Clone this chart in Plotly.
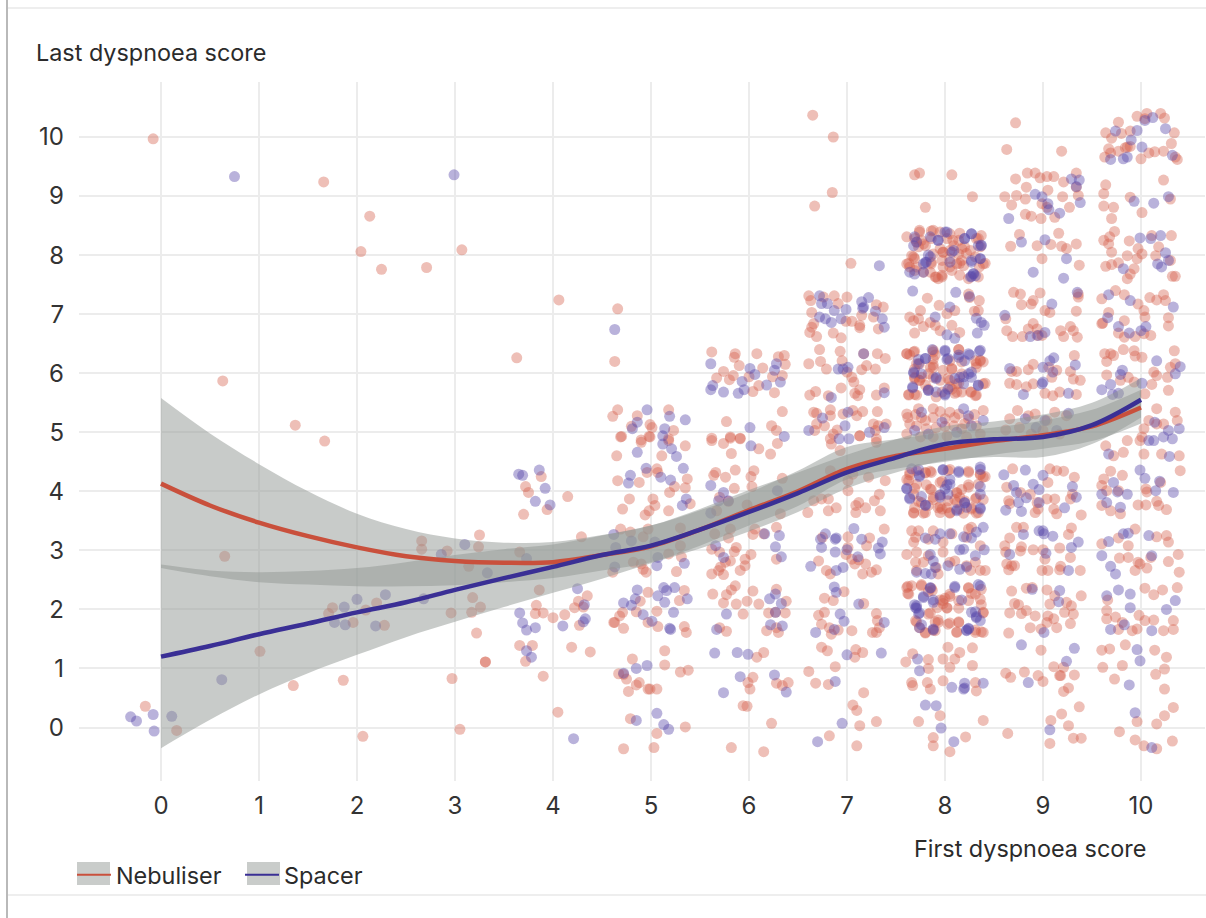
import plotly.graph_objects as go

# Scatter readings, (first score + jitter, last score + jitter), grouped by first-score column
neb_left = [(-0.08,9.97),(1.66,9.24),(2.04,8.06),(2.13,8.66),(2.25,7.76),(2.71,7.79),(3.07,8.09),(4.06,7.24),(3.63,6.26),
(0.63,5.87),(1.37,5.12),(1.67,4.85),(3.72,4.08),(3.75,3.98),(3.88,4.25),(3.70,3.61),(4.15,3.91),(3.94,3.69),
(2.66,3.16),(2.66,3.02),(2.92,2.99),(3.25,3.26),(3.24,3.06),(3.14,2.73),(3.66,2.97),(4.29,3.23),(0.65,2.9),
(1.75,2.03),(1.71,1.93),(1.96,1.78),(2.09,1.99),(2.20,2.11),(2.28,1.73),(3.18,2.20),(2.96,1.94),(3.17,1.95),(3.26,2.04),
(3.22,1.60),(3.31,1.11),(3.31,1.11),(3.86,2.33),(3.83,2.07),(3.82,1.93),(3.90,1.94),(4.0,1.86),(4.12,1.91),(4.22,2.03),
(4.26,2.14),(4.35,2.23),(4.31,2.04),(4.27,1.73),(3.66,1.39),(3.79,1.39),(3.72,1.12),(4.19,1.36),(4.38,1.28),(3.90,0.87),
(4.05,0.26),(3.05,-0.03),(2.97,0.83),(1.01,1.29),(1.35,0.71),(1.86,0.80),(2.06,-0.15),(-0.16,0.36),(0.16,-0.05)]
spa_left = [(0.75,9.33),(2.99,9.36),(-0.31,0.18),(-0.25,0.11),(-0.08,0.22),(-0.07,-0.06),(0.11,0.19),(0.62,0.81),
(1.87,2.04),(2.0,2.17),(2.29,2.25),(1.77,1.78),(1.88,1.74),(2.19,1.72),(2.68,2.18),(3.10,3.10),(2.86,2.93),(3.33,2.62),(3.73,2.86),
(3.65,4.29),(3.69,4.27),(3.86,4.36),(3.92,4.05),(3.82,3.83),(3.97,3.77),(3.66,1.94),(3.69,1.77),(3.73,1.65),(3.82,1.69),
(4.10,1.72),(4.25,2.35),(4.32,2.08),(4.33,1.84),(4.31,1.79),(3.73,1.30),(3.78,1.19),(4.21,-0.19)]

neb_5 = [(4.66,7.09),(4.63,6.20),(4.66,5.38),(4.61,5.27),(4.70,4.93),(4.86,5.28),(4.80,5.10),(4.99,5.13),(5.01,5.08),(5.18,5.38),
(4.98,4.93),(4.90,4.87),(5.23,5.03),(5.18,4.89),(4.69,4.92),(4.90,4.83),(4.99,4.92),(5.11,4.60),(5.35,4.77),(4.65,4.60),(5.18,4.86),
(4.96,4.32),(5.06,4.38),(5.07,4.32),(4.88,4.15),(4.66,4.18),(5.37,4.21),(5.24,4.08),(5.35,4.06),(5.19,3.98),(4.78,3.87),(4.71,3.70),
(5.02,3.87),(5.04,3.76),(4.98,3.67),(4.94,3.60),(5.18,3.67),(5.40,3.79),(4.69,3.36),(4.79,3.31),(4.97,3.36),(4.92,3.23),(5.30,3.38),
(5.30,3.08),(5.18,2.94),(5.31,2.89),(4.90,2.77),(4.95,2.63),(5.26,2.64),(4.61,2.63),(4.82,2.80),(4.92,2.68),(4.97,2.29),(4.89,2.14),
(4.85,1.96),(5.06,1.97),(4.71,1.95),(4.68,1.89),(4.63,1.78),(4.72,1.68),(4.97,1.78),(5.07,1.71),(5.34,2.32),(5.29,2.15),(5.34,1.71),
(5.36,1.61),(4.81,1.16),(4.72,0.90),(4.75,0.82),(5.14,1.30),(5.14,1.06),(5.30,0.94),(5.38,0.97),(4.88,0.76),(4.85,0.72),(4.77,0.61),
(4.97,0.65),(4.99,0.65),(5.06,0.65),(4.79,0.15),(5.06,-0.10),(5.35,0.01),(4.72,-0.36),(5.03,-0.34),(4.62,1.78),(4.67,0.91)]
spa_5 = [(4.63,6.74),(4.96,5.38),(4.86,5.17),(4.81,5.06),(5.14,5.06),(5.12,4.94),(5.19,5.27),(5.35,5.21),(4.86,4.66),(5.12,4.80),
(5.21,4.72),(5.26,4.59),(4.95,4.39),(5.33,4.39),(4.79,4.27),(4.77,4.14),(5.10,4.24),(5.20,4.19),(5.36,3.87),(5.32,3.76),(4.62,3.27),
(4.80,3.16),(5.04,3.14),(4.64,3.05),(5.07,2.88),(5.06,2.74),(5.34,2.78),(4.63,2.72),(4.86,2.33),(5.07,2.23),(5.13,2.37),(5.16,2.32),
(5.24,2.37),(5.37,2.18),(5.14,2.12),(4.84,2.18),(4.72,2.11),(4.80,2.07),(4.92,1.91),(5.01,1.80),(5.23,1.95),(5.19,1.68),(5.20,1.66),
(4.85,1.0),(4.96,1.05),(4.72,0.92),(5.06,0.24),(4.85,0.12),(5.13,0.05),(5.18,-0.03)]

neb_6 = [(5.62,6.36),(5.86,6.33),(5.85,6.27),(5.90,6.13),(6.08,6.33),(6.30,6.28),(6.36,6.30),(6.37,6.15),(6.14,6.09),(5.74,6.03),
(5.67,5.92),(5.80,5.89),(5.84,5.96),(6.34,5.96),(6.24,5.94),(6.0,5.94),(6.10,5.79),(6.04,5.69),(6.26,5.67),(6.34,5.35),(5.77,5.18),
(6.23,5.11),(6.28,5.03),(5.62,4.90),(5.81,4.92),(5.91,4.90),(5.62,4.86),(5.74,4.81),(5.81,4.90),(5.91,4.89),(5.82,4.64),(6.10,4.72),
(6.22,4.63),(6.29,4.81),(5.86,4.36),(6.05,4.35),(5.66,4.32),(5.76,4.24),(6.02,4.25),(5.64,4.27),(6.34,4.22),(5.85,4.05),(6.03,4.08),
(5.70,3.90),(5.79,3.83),(5.98,3.77),(5.67,3.67),(6.32,3.62),(5.65,3.28),(5.81,3.36),(5.79,3.21),(6.06,3.36),(6.04,3.27),(6.15,3.28),
(6.28,3.39),(5.62,3.02),(5.87,3.05),(5.85,2.98),(5.70,2.97),(6.02,2.93),(5.96,2.85),(5.81,2.82),(5.76,2.80),(5.71,2.72),(5.69,2.66),
(5.62,2.60),(5.74,2.59),(5.91,2.66),(5.96,2.74),(6.28,2.85),(5.86,2.40),(5.82,2.33),(5.77,2.25),(5.63,2.26),(5.74,2.11),(5.87,2.09),
(6.04,2.31),(5.98,2.14),(6.10,2.09),(6.28,2.34),(6.20,1.94),(6.27,1.95),(6.38,2.14),(6.37,1.94),(5.94,1.92),(5.70,1.69),(5.77,1.63),
(6.18,1.64),(6.28,1.69),(6.30,1.61),(6.15,1.27),(6.08,1.19),(6.04,0.85),(5.99,0.76),(6.01,0.65),(6.28,0.75),(6.34,0.71),(6.40,0.76),
(5.94,0.37),(5.98,0.36),(6.23,0.07),(5.82,-0.34),(6.15,-0.41)]
spa_6 = [(5.61,6.16),(6.01,6.08),(6.06,5.98),(6.28,6.16),(6.26,6.05),(6.32,5.85),(5.93,5.86),(5.63,5.79),(5.61,5.72),(5.74,5.68),
(5.89,5.66),(5.95,5.72),(6.18,5.80),(6.01,5.08),(6.36,4.93),(6.02,4.77),(5.61,4.10),(5.74,3.98),(5.69,3.84),(5.79,3.84),(5.61,3.63),
(6.29,4.01),(6.16,3.28),(6.31,3.25),(5.66,3.08),(6.27,3.06),(5.74,2.88),(6.33,2.89),(6.27,2.26),(6.21,2.18),(6.33,2.10),(5.77,1.92),
(6.27,1.95),(6.22,1.74),(6.34,1.72),(5.67,1.66),(5.65,1.26),(5.88,1.27),(5.99,1.24),(5.91,0.86),(6.26,0.89),(5.74,0.59),(6.38,0.60)]

neb_7 = [(6.65,10.37),(6.86,10.0),(6.85,9.06),(6.67,8.83),(7.04,7.86),(6.61,7.31),(6.63,7.23),(6.76,7.29),(6.87,7.31),(7.0,7.29),
(6.91,7.18),(7.30,7.16),(7.37,7.12),(6.64,7.03),(6.66,6.84),(6.64,6.78),(6.62,6.69),(6.69,6.62),(6.86,6.68),(6.94,6.60),(7.05,6.88),
(6.99,6.88),(7.13,6.81),(7.13,6.77),(7.32,6.75),(7.15,6.98),(7.27,6.95),(6.72,6.40),(6.93,6.37),(6.95,6.21),(6.61,6.16),(6.73,6.20),
(6.79,6.07),(7.17,6.33),(7.31,6.33),(7.39,6.25),(7.20,6.13),(7.15,6.06),(7.29,6.07),(7.0,6.02),(7.05,5.93),(7.07,5.85),(6.94,5.75),
(7.13,5.72),(7.08,5.66),(7.11,5.62),(6.62,5.63),(6.68,5.69),(7.30,5.63),(7.38,5.75),(6.81,5.62),(6.66,5.34),(6.69,5.32),(6.83,5.38),
(6.83,5.28),(6.96,5.31),(7.06,5.37),(7.10,5.28),(7.16,5.35),(7.31,5.35),(7.27,5.14),(7.32,5.11),(7.40,5.14),(7.29,5.03),(6.69,5.14),
(6.77,5.11),(6.67,5.03),(6.86,4.97),(6.90,5.04),(6.83,4.89),(7.13,4.94),(7.30,4.89),(6.84,4.80),(6.93,4.69),(7.13,4.94),(7.30,4.83),
(6.83,4.35),(7.01,4.18),(7.06,4.29),(7.01,4.01),(6.66,3.84),(6.74,3.87),(6.81,3.87),(6.89,3.72),(6.81,3.67),(6.60,3.64),(7.09,3.76),
(7.12,3.81),(7.19,3.72),(7.33,3.95),(7.28,3.84),(7.34,3.67),(7.09,3.64),(7.39,4.18),(7.22,4.24),(7.01,3.23),(7.23,3.21),(7.38,3.36),
(7.20,3.08),(6.75,3.22),(6.71,2.82),(7.05,2.85),(7.08,2.77),(7.19,2.77),(6.99,2.93),(6.79,2.66),(6.83,2.60),(7.16,2.60),(7.25,2.63),
(7.30,2.67),(7.01,3.05),(7.12,2.84),(6.97,2.30),(6.77,2.19),(6.86,2.15),(6.71,1.90),(6.77,1.95),(6.74,1.75),(6.82,1.69),(6.84,1.58),
(6.91,1.65),(7.05,1.64),(7.30,1.93),(7.31,1.81),(7.33,1.69),(7.26,1.61),(7.30,1.61),(7.17,2.10),(6.74,1.36),(6.80,1.30),(7.09,1.32),
(7.16,1.27),(7.08,1.19),(6.88,1.03),(6.61,0.95),(6.68,0.75),(6.81,0.73),(7.17,0.59),(7.06,0.38),(7.10,0.29),(7.13,0.03),(7.30,0.10),
(6.82,-0.14),(7.10,-0.31)]
spa_7 = [(7.33,7.82),(6.72,7.31),(6.74,7.18),(6.80,7.18),(6.87,7.06),(6.99,7.08),(7.15,7.21),(7.22,7.28),(7.16,7.10),(7.17,7.12),
(7.29,7.05),(7.36,6.92),(7.38,6.78),(6.72,6.95),(6.78,6.92),(6.84,6.86),(6.94,6.92),(7.17,6.33),(6.91,6.07),(7.01,6.10),(6.96,6.07),
(6.84,5.59),(7.38,5.67),(6.75,5.24),(7.01,5.34),(6.98,5.11),(6.61,5.03),(7.23,5.0),(7.38,5.08),(6.92,4.89),(7.02,4.89),(7.07,3.37),
(6.78,3.28),(6.73,3.19),(6.89,3.21),(6.88,3.19),(7.15,3.19),(6.74,3.05),(6.88,2.97),(7.0,3.01),(7.36,3.14),(7.32,3.04),(7.34,2.94),
(6.63,2.73),(6.96,2.71),(6.89,2.66),(7.11,2.89),(6.87,2.38),(6.89,2.29),(7.12,2.09),(6.93,1.92),(6.97,1.80),(6.87,1.66),(6.68,1.61),
(7.38,1.78),(7.0,1.23),(7.35,1.26),(6.88,0.78),(6.95,0.07),(6.70,-0.24)]

neb_8 = [(7.69,9.36),(7.74,9.39),(8.07,9.36),(8.28,8.99),(7.80,8.81),(7.61,8.31),(7.74,8.39),(7.86,8.41),(7.76,8.25),(7.73,8.14),
(7.80,8.16),(7.86,8.28),(7.95,8.39),(8.05,8.36),(8.15,8.37),(8.37,8.33),(8.32,8.28),(8.14,8.25),(8.09,8.16),(7.98,8.05),(7.95,8.11),
(7.66,7.99),(7.61,7.85),(7.64,7.80),(7.69,7.94),(7.71,7.80),(7.88,8.02),(7.86,7.85),(7.97,7.91),(8.05,7.94),(8.14,8.02),(8.17,7.91),
(8.12,7.85),(8.19,7.82),(8.39,7.85),(8.35,7.80),(8.31,7.97),(8.26,8.08),(8.20,8.14),(8.36,8.14),(7.90,7.63),(7.93,7.60),(7.97,7.63),
(7.85,7.71),(8.07,7.74),(8.15,7.66),(8.24,7.60),(8.34,7.63),(7.98,7.80),(7.78,7.71),(8.05,8.08),(8.02,8.28),
(7.82,7.27),(7.94,7.15),(8.24,7.34),(8.25,7.28),(8.35,7.23),(8.34,7.06),(8.30,7.05),(8.10,7.06),(7.75,7.06),(7.64,6.95),(7.68,6.89),
(7.73,6.92),(7.78,6.79),(7.69,6.68),(7.85,6.86),(7.90,6.81),(7.95,6.72),(8.15,6.69),(8.02,7.01),(8.07,6.81),
(7.61,6.33),(7.69,6.37),(7.88,6.36),(8.14,6.40),(7.69,6.07),(7.74,6.16),(7.88,6.24),(7.85,6.10),(7.88,6.10),(8.07,6.07),(8.05,6.21),
(8.31,6.21),(8.36,6.21),(8.32,6.10),(7.69,5.93),(7.76,5.93),(7.88,5.93),(7.95,5.88),(8.05,5.88),(8.12,5.82),(8.17,5.99),(8.39,5.82),
(7.63,5.64),(7.69,5.64),(7.83,5.73),(8.12,5.68),(8.26,5.68),(8.31,5.62),(8.07,5.73),(7.97,5.68),(7.74,5.88),(8.17,5.68),
(7.61,5.31),(7.73,5.40),(7.76,5.25),(7.88,5.40),(7.88,5.25),(8.05,5.34),(8.0,5.23),(8.14,5.31),(8.24,5.23),(7.64,5.14),(7.71,5.11),
(7.81,5.06),(7.91,5.08),(8.09,5.11),(8.17,5.06),(8.32,5.11),(8.39,5.37),(7.61,4.97),(7.75,4.92),(7.88,4.92),(8.02,4.94),(8.22,4.92),(8.36,4.97),
(7.64,4.32),(7.71,4.35),(7.86,4.32),(7.80,4.32),(8.03,4.35),(8.24,4.32),(8.36,4.29),(7.63,4.18),(7.71,4.12),(7.95,4.15),(7.85,4.04),
(8.12,3.98),(8.15,3.90),(8.24,4.07),(8.34,4.12),(7.68,3.95),(7.76,3.81),(7.95,3.93),(7.97,3.70),(7.95,3.64),(7.68,3.64),(7.80,3.64),
(8.05,3.64),(8.15,3.70),(8.34,3.64),(8.27,3.70),(8.12,3.81),(8.31,3.87),(7.88,3.90),(8.20,3.84),(7.73,3.83),(7.83,3.76),(8.03,3.84),(8.39,4.24),
(7.66,3.33),(7.73,3.33),(7.68,3.14),(7.70,3.22),(7.61,2.93),(7.70,2.80),(7.88,3.33),(7.83,3.19),(8.07,3.28),(8.24,3.36),(8.27,3.39),
(7.98,3.14),(8.36,3.08),(8.22,3.22),(7.71,2.97),(7.83,2.91),(7.98,2.97),(8.10,2.82),(8.22,2.74),(8.31,2.80),(8.26,2.66),(8.36,2.66),
(8.41,2.66),(7.71,2.66),(7.93,2.60),(7.91,2.71),(8.05,2.80),(7.78,2.80),
(7.61,2.37),(7.66,2.40),(7.76,2.40),(7.87,2.32),(7.63,2.26),(8.05,2.26),(7.98,2.15),(8.24,2.37),(8.37,2.34),(8.31,2.26),(8.14,2.15),
(7.92,2.03),(8.02,2.03),(8.39,1.95),(7.83,1.92),(7.70,1.81),(7.93,1.78),(8.03,1.75),(8.14,1.78),(7.90,1.64),(7.80,1.61),(8.12,1.61),
(8.31,1.61),(8.39,1.61),(7.74,1.69),(8.24,2.15),(8.36,2.17),
(8.03,1.36),(8.28,1.35),(7.67,1.25),(8.15,1.27),(7.60,1.11),(7.83,1.15),(7.98,1.16),(8.10,1.16),(7.83,1.0),(8.05,1.02),(8.28,1.05),
(7.66,0.76),(7.67,0.71),(7.82,0.76),(7.85,0.65),(7.98,0.79),(8.31,0.76),(8.32,0.62),(7.95,0.20),(7.73,0.10),(8.39,0.12),(7.88,-0.17),
(7.88,-0.31),(8.21,-0.16),(8.05,-0.41)]
neb_8_dense = [(7.71,8.22),(7.69,8.28),(7.88,8.42),(8.08,8.25),(8.34,8.28),(8.17,8.11),(8.22,8.03),(7.98,8.05),(7.86,7.88),(7.68,7.97),
(7.63,7.86),(7.69,7.74),(7.91,7.63),(7.97,7.66),(8.05,7.80),(8.15,7.86),(8.41,7.86),(7.78,8.19),(7.74,8.42),
(7.61,6.33),(7.68,6.36),(7.64,6.31),(7.88,6.39),(7.90,6.31),(8.14,6.40),(7.71,6.16),(7.88,6.14),(8.07,6.08),(7.98,6.05),(7.74,5.88),
(7.83,5.99),(7.69,5.91),(8.03,5.91),(8.05,5.77),(8.14,5.83),(8.32,6.16),(8.39,6.19),(8.36,6.22),(8.17,6.19),(8.41,5.83),(7.63,5.63),
(7.71,5.63),(7.91,5.60),(8.10,5.66),(8.32,5.63),(8.27,5.68),(7.80,5.80),
(7.62,5.25),(7.80,5.20),(7.95,5.35),(8.10,5.25),(8.30,5.30),(7.70,5.30),(8.0,5.10),(8.20,5.15),
(7.61,4.20),(7.64,4.28),(7.85,4.34),(7.80,4.31),(8.05,4.37),(8.24,4.34),(8.36,4.28),(8.41,4.25),(7.69,4.05),(7.81,4.11),(7.86,4.03),
(7.97,4.17),(8.12,3.97),(8.24,4.11),(8.17,4.03),(8.32,3.89),(8.39,3.86),(7.69,3.72),(7.93,3.72),(7.95,3.74),(8.02,3.72),(8.05,3.63),
(7.78,3.63),(7.68,3.63),(8.19,3.63),(8.32,3.63),(8.27,3.72),(7.88,3.86),(8.10,3.86),
(7.62,2.39),(7.62,2.27),(7.76,2.42),(7.83,2.30),(7.86,2.36),(8.24,2.36),(8.27,2.27),(7.98,2.10),(8.0,2.19),(8.05,2.22),(8.14,2.02),
(8.37,2.08),(8.39,1.94),(7.85,1.94),(7.90,1.79),(7.93,1.82),(7.71,1.79),(8.05,1.77),(8.14,1.79),(7.88,1.65),(7.80,1.60),(8.12,1.62),
(8.31,1.65),(8.37,1.62),(8.02,2.02),(7.95,2.16)]
spa_8 = [(7.69,8.31),(7.71,8.22),(7.68,8.16),(7.93,8.25),(8.02,8.39),(8.27,8.36),(8.20,8.28),(8.34,8.16),(8.37,8.16),(8.09,8.08),
(7.85,7.97),(7.78,7.85),(7.81,7.88),(7.69,7.68),(7.78,7.71),(8.27,7.91),(8.36,7.94),(8.29,7.68),(8.31,7.65),(8.26,7.63),(8.05,7.88),
(7.67,7.39),(8.11,7.37),(8.25,7.30),(8.05,7.12),(7.90,6.95),(8.32,6.93),(8.37,6.86),(8.40,6.81),(8.33,6.68),(8.02,6.65),(8.10,6.59),
(7.87,6.40),(8.0,6.37),(8.35,6.37),(8.25,6.31),(7.80,6.25),(7.73,6.23),(8.02,6.23),(8.14,6.27),(8.20,6.21),(7.68,6.0),(7.91,5.93),
(8.15,5.93),(8.24,5.99),(8.27,5.93),(7.67,5.75),(8.0,5.65),(8.03,5.73),(8.34,5.79),(7.83,5.71),(8.19,5.82),
(7.69,5.03),(7.76,5.34),(7.97,5.17),(8.19,5.40),(8.24,5.28),(8.39,5.20),(8.27,5.11),(7.83,4.97),(8.12,5.0),
(7.66,4.38),(7.74,4.27),(7.98,4.36),(8.14,4.32),(8.36,4.41),(8.05,4.12),(7.61,4.04),(7.64,3.87),(7.80,3.76),(8.0,4.04),(8.03,3.95),
(7.95,3.90),(8.22,3.73),(8.36,3.95),(8.36,3.70),(8.12,3.67),(8.20,3.81),
(8.39,3.39),(7.95,3.28),(7.90,3.19),(7.80,3.21),(8.05,3.28),(8.19,3.23),(8.27,3.21),(8.32,3.31),(8.15,3.01),(8.19,3.02),(8.40,3.01),
(7.85,2.93),(8.31,2.91),(7.88,2.82),(7.90,2.71),(7.80,2.61),(7.71,2.63),(7.86,2.60),(8.03,2.74),(8.15,2.68),(8.22,2.72),
(7.85,2.37),(8.10,2.37),(8.36,2.40),(7.78,2.20),(7.71,2.06),(7.70,2.03),(7.88,2.12),(7.73,1.92),(8.27,1.95),(8.32,1.86),(8.36,1.81),
(7.74,1.69),(8.24,1.67),(8.22,1.64),(7.88,1.67),
(7.72,1.16),(7.74,0.96),(8.07,0.68),(8.20,0.75),(8.20,0.67),(8.19,0.65),(8.39,0.75),(7.80,0.38),(7.91,0.37),(7.96,-0.01),(8.09,-0.24)]
spa_8_dense = [(7.85,8.31),(7.93,8.25),(8.0,8.39),(8.27,8.36),(8.20,8.28),(8.07,8.05),(7.83,8.0),(7.80,7.88),(8.27,7.88),(8.36,7.94),
(8.29,7.69),(8.27,7.64),(7.64,7.71),(8.37,8.17),
(7.68,6.02),(7.73,6.16),(7.80,6.25),(8.0,6.39),(8.03,6.25),(8.24,6.33),(8.36,6.39),(8.14,6.31),(7.76,5.99),(7.91,5.91),(8.10,5.91),
(8.19,5.94),(8.27,6.02),(8.34,5.80),(7.67,5.77),(7.83,5.71),(8.0,5.63),(7.91,5.68),
(7.74,4.25),(7.73,4.37),(7.98,4.37),(8.14,4.34),(8.36,4.37),(8.05,4.20),(7.61,4.05),(7.64,3.89),(7.80,3.77),(7.95,3.94),(8.02,4.11),
(8.20,3.80),(8.36,4.08),(8.36,3.72),(8.12,3.69),(7.76,3.91),
(7.85,2.36),(8.10,2.39),(8.34,2.42),(7.78,2.22),(7.88,2.16),(7.69,2.08),(7.71,2.02),(7.74,1.94),(8.31,1.96),(8.32,1.88),(8.24,1.68),
(8.22,1.65),(7.76,1.74),(7.88,1.65),(8.17,2.16)]

neb_9 = [(8.72,10.24),(8.63,9.79),(9.19,9.76),(8.84,9.39),(8.92,9.39),(8.72,9.29),(8.97,9.31),(9.04,9.33),(9.11,9.33),(9.21,9.24),
(9.34,9.39),(8.61,8.99),(8.73,9.01),(8.83,9.15),(8.82,8.95),(8.68,8.85),(9.05,9.10),(9.20,8.99),(9.36,9.01),(8.82,8.69),(8.88,8.66),
(8.98,8.62),(9.12,8.64),(9.27,8.81),(9.04,8.81),(9.34,9.15),(8.99,8.87),(8.76,8.35),(8.67,8.15),(8.94,8.16),(9.08,8.18),(9.16,8.37),
(9.19,8.15),(9.24,8.11),(9.34,8.19),(8.99,7.94),(9.37,7.83),(8.70,7.37),(8.77,7.34),(8.97,7.36),(8.90,7.23),(8.78,7.16),(8.88,7.17),
(9.36,7.34),(9.36,7.29),(9.34,7.05),(9.02,7.06),(9.07,7.03),(8.62,6.92),(8.63,6.72),(8.69,6.62),(8.79,6.62),(8.85,6.75),(8.94,6.75),
(8.94,6.64),(8.99,6.64),(9.18,6.72),(9.21,6.62),(9.28,6.79),(9.31,6.72),(9.35,6.61),(8.90,6.84),(9.32,6.30),(8.68,6.03),(8.73,6.03),
(8.85,6.06),(8.90,6.15),(9.06,6.10),(9.14,6.05),(9.28,6.03),(8.66,5.83),(8.73,5.81),(8.83,5.77),(8.90,5.82),(9.31,5.90),(9.38,5.88),
(9.02,5.66),(9.10,5.62),(9.17,5.68),(9.34,5.64),(9.09,5.93),(8.74,5.37),(8.66,5.23),(8.85,5.28),(8.92,5.31),(9.12,5.34),(8.62,5.04),
(8.76,5.08),(8.88,4.97),(9.0,5.03),(9.17,4.97),(9.24,5.28),(9.04,5.20),
(8.69,4.38),(9.07,4.38),(9.21,4.34),(9.14,4.35),(9.05,4.15),(9.32,4.24),(8.63,4.07),(8.87,3.95),(8.77,3.98),(8.94,3.81),(9.04,3.87),
(9.12,3.87),(9.28,3.87),(9.30,3.95),(8.65,3.84),(8.66,3.79),(8.92,3.64),(8.95,3.70),(9.11,3.70),(9.14,3.62),(9.39,3.60),
(8.73,3.39),(8.80,3.39),(9.29,3.38),(8.66,3.21),(9.26,3.27),(8.78,3.06),(8.77,2.99),(8.61,3.08),(8.62,2.97),(8.90,3.01),(9.0,3.01),
(9.17,3.04),(8.63,2.77),(8.68,2.74),(8.71,2.74),(8.65,2.67),(9.18,2.73),(9.28,2.88),(9.02,2.85),(8.99,2.66),(9.05,2.66),(9.38,2.66),(9.17,2.67),
(8.68,2.31),(8.83,2.36),(8.89,2.37),(9.04,2.33),(9.39,2.23),(8.71,2.10),(8.75,2.08),(8.66,1.94),(8.83,1.98),(8.78,1.93),(8.92,1.89),
(9.07,2.09),(9.12,2.23),(9.24,2.12),(9.29,2.06),(9.22,1.95),(9.31,1.92),(9.05,1.89),(9.11,1.84),(9.04,1.78),(9.14,1.69),(9.28,1.76),
(8.87,1.69),(8.98,1.67),(8.65,1.60),
(8.98,1.31),(9.11,1.03),(9.21,1.02),(8.62,0.92),(8.67,0.85),(8.81,0.94),(8.95,0.88),(9.0,0.78),(9.17,0.88),(9.18,0.88),(9.32,0.89),
(9.21,0.61),(9.26,0.67),(9.37,0.35),(9.19,0.23),(9.26,0.03),(9.08,0.12),(8.64,-0.10),(9.07,-0.27),(9.31,-0.18),(9.39,-0.18)]
spa_9 = [(8.65,8.62),(8.92,9.03),(8.99,8.99),(9.05,8.87),(9.06,8.77),(9.17,8.71),(9.29,9.29),(9.37,9.27),(9.34,9.16),(9.38,8.89),
(8.78,8.22),(9.02,8.26),(9.24,7.94),(8.90,7.71),(9.21,7.61),(8.61,6.98),(9.09,7.17),(9.02,6.69),(8.87,6.62),(8.95,6.64),(9.35,7.37),
(9.11,6.26),(9.07,6.21),(8.66,6.08),(9.33,6.14),(9.0,6.10),(8.99,5.82),(9.0,5.85),(8.80,5.64),(9.26,5.66),(9.10,6.02),(9.26,5.32),
(8.82,5.23),(9.02,5.20),(8.93,5.08),(9.14,5.03),(8.60,4.28),(8.82,4.36),(9.0,4.27),(8.70,4.10),(8.73,3.98),(8.90,4.12),(8.96,4.03),
(9.30,4.08),(9.34,3.90),(8.83,3.89),(8.62,3.68),(8.78,3.66),(8.96,3.81),(9.22,3.72),(8.75,3.81),(8.80,3.27),(8.96,3.33),(9.0,3.33),
(9.10,3.24),(9.36,3.14),(9.29,3.05),(8.66,2.93),(9.03,2.95),(9.26,2.66),(9.01,3.28),(8.89,2.34),(9.17,2.32),(9.16,2.13),(9.01,1.61),
(8.78,1.40),(9.32,1.34),(9.24,1.12),(8.85,0.76),(9.07,-0.04)]

neb_10 = [(9.96,10.35),(10.06,10.40),(10.04,10.31),(10.20,10.40),(10.24,10.32),(9.77,10.25),(9.64,10.07),(9.70,9.98),(9.80,10.06),
(9.89,10.10),(10.34,10.07),(10.31,9.89),(9.67,9.80),(9.63,9.66),(9.69,9.73),(9.77,9.76),(9.84,9.82),(9.89,9.84),(10.0,9.63),(10.08,9.73),
(10.14,9.75),(10.23,9.76),(10.35,9.66),(10.37,9.62),(9.86,9.83),(10.23,9.27),(9.64,9.19),(9.62,9.04),(9.89,8.98),(10.30,8.95),(9.62,8.83),
(9.72,8.81),(10.01,8.72),(9.70,8.62),(9.73,8.40),(9.62,8.25),(9.68,8.31),(9.67,8.19),(9.70,8.05),(9.88,8.24),(10.11,8.33),(10.31,8.33),
(9.97,8.11),(10.01,8.02),(9.86,7.99),(9.96,7.94),(9.64,7.81),(9.70,7.84),(9.77,7.87),(9.93,7.77),(9.89,7.68),(9.86,7.60),(10.18,8.14),
(10.15,7.99),(10.30,7.91),(10.32,7.64),(10.35,7.64),(9.74,7.40),(9.83,7.33),(9.60,7.26),(10.09,7.28),(10.16,7.24),(10.23,7.33),(10.25,7.23),
(9.97,7.17),(9.67,7.03),(10.03,7.06),(9.60,6.84),(9.61,6.85),(9.83,6.89),(10.28,6.94),(10.28,6.80),(10.04,6.95),(9.77,6.68),(9.83,6.61),
(9.94,6.62),(10.03,6.67),(10.10,6.64),(10.34,6.38),(9.82,6.40),(9.93,6.38),(9.63,6.33),(9.69,6.33),(9.72,6.30),(9.65,6.20),(9.94,6.29),
(10.01,6.27),(10.35,6.16),(10.13,6.02),(10.16,5.96),(10.27,5.93),(9.65,5.97),(9.79,5.88),(9.87,5.93),(9.93,5.85),(10.11,5.81),(10.28,5.71),
(10.04,5.65),(10.30,6.10),(10.16,5.40),(10.35,5.34),(10.08,5.20),(10.16,5.14),(10.37,5.20),(10.03,5.06),(10.01,4.92),(10.23,5.14),
(9.64,4.77),(9.72,4.60),(9.82,4.66),(9.86,4.86),(9.99,4.86),(10.03,4.63),(10.21,4.63),(10.39,4.60),(10.40,4.35),
(9.69,4.34),(9.62,4.21),(9.81,4.27),(9.60,4.10),(9.65,4.01),(10.20,4.15),(10.05,4.04),(10.06,3.99),(9.60,3.76),(9.69,3.67),(9.79,3.62),
(9.97,3.77),(10.05,3.77),(10.16,3.83),(10.18,3.76),(10.26,3.69),(9.77,4.01),
(9.94,3.36),(9.77,3.21),(9.87,3.08),(10.16,3.23),(10.26,3.25),(10.28,3.14),(9.60,3.11),(10.38,2.93),(10.28,2.81),(9.78,2.87),(9.87,2.88),
(9.97,2.80),(10.06,2.70),(10.10,2.88),(9.94,2.66),(9.99,2.77),(10.39,2.63),
(10.04,2.36),(10.37,2.37),(10.22,2.33),(10.13,2.25),(9.66,2.16),(9.65,1.98),(9.98,1.90),(9.65,1.84),(9.74,1.87),(9.81,1.78),(10.04,1.81),
(10.13,1.82),(10.33,1.81),(10.33,1.66),(10.23,1.64),(9.96,1.67),(9.91,1.64),(9.77,1.66),
(9.60,1.31),(9.68,1.33),(9.84,1.40),(10.14,1.31),(10.26,1.19),(9.61,1.02),(9.81,1.05),(10.24,0.99),(10.15,0.90),(9.73,0.82),(10.24,0.65),
(10.33,0.34),(10.24,0.20),(9.96,0.10),(10.16,0.06),(9.78,-0.07),(9.94,-0.21),(10.03,-0.31),(10.16,-0.36),(10.32,-0.23)]
spa_10 = [(10.12,10.33),(10.04,10.28),(9.74,10.10),(9.96,10.11),(10.25,10.14),(9.90,9.95),(10.01,9.83),(9.69,9.62),(9.82,9.63),(9.86,9.66),
(10.32,9.69),(9.93,8.91),(10.13,8.88),(10.28,8.99),(9.99,8.29),(10.10,8.28),(10.20,8.33),(10.25,8.04),(10.17,7.85),(10.21,7.80),(10.28,7.91),
(9.82,7.77),(9.67,7.33),(9.89,7.23),(10.33,7.12),(9.66,6.94),(9.77,6.79),(9.88,6.68),(10.0,6.72),(10.05,6.79),(10.16,6.21),(10.40,6.11),
(9.81,6.05),(9.79,5.98),(10.35,5.99),(9.69,5.81),(10.01,5.83),(9.60,5.72),(9.71,5.64),(9.77,5.66),(10.14,5.17),(10.28,5.03),(10.39,5.06),
(10.23,4.92),(9.67,4.63),(10.08,4.86),(10.13,4.86),(10.32,4.89),(10.29,4.59),(9.99,4.36),(10.04,4.22),(9.72,4.15),(9.76,3.99),(9.60,3.95),
(9.86,3.95),(10.15,4.01),(10.19,4.17),(10.33,3.98),(9.65,3.81),(9.79,3.73),(9.67,3.15),(9.82,3.28),(9.87,3.29),(10.08,3.25),(9.60,2.91),
(9.69,2.73),(9.74,2.60),(10.11,2.91),(9.77,2.33),(9.65,2.23),(9.89,2.26),(9.89,2.03),(10.35,2.15),(10.26,2.0),(9.83,1.74),(9.69,1.66),
(10.11,1.64),(9.96,1.32),(9.99,1.13),(9.88,0.72),(9.94,0.25),(10.11,-0.34)]

# Smoothed fits and their confidence bands
fit_x = [0,0.5,1,1.5,2,2.5,3,3.5,4,4.5,5,5.5,6,6.5,7,7.5,8,8.5,9,9.5,10]
neb_fit = [4.13,3.76,3.47,3.24,3.05,2.90,2.82,2.79,2.80,2.92,3.07,3.35,3.68,4.00,4.38,4.60,4.72,4.85,4.95,5.10,5.42]
neb_hi  = [5.58,4.98,4.46,4.00,3.62,3.36,3.20,3.13,3.14,3.26,3.42,3.68,3.98,4.35,4.75,4.88,5.00,5.08,5.20,5.38,5.72]
neb_lo  = [2.70,2.56,2.46,2.42,2.39,2.39,2.41,2.46,2.53,2.66,2.80,3.08,3.42,3.75,4.20,4.38,4.50,4.62,4.72,4.85,5.15]
spa_fit = [1.20,1.38,1.58,1.76,1.95,2.12,2.33,2.53,2.72,2.92,3.08,3.35,3.65,3.97,4.32,4.57,4.80,4.88,4.92,5.12,5.55]
spa_hi  = [2.76,2.66,2.63,2.65,2.70,2.80,2.92,3.02,3.10,3.25,3.42,3.70,4.02,4.32,4.62,4.88,5.10,5.18,5.30,5.50,5.92]
spa_lo  = [-0.35,0.13,0.56,0.92,1.23,1.53,1.79,2.04,2.28,2.52,2.78,3.03,3.32,3.65,4.05,4.32,4.52,4.58,4.58,4.80,5.25]

x_ticks = [0,1,2,3,4,5,6,7,8,9,10]
y_ticks = [0,1,2,3,4,5,6,7,8,9,10]

RED = "#c9503c"; BLUE = "#3a2f95"
RED_DOT = "rgba(212,94,74,0.40)"; BLUE_DOT = "rgba(88,72,170,0.42)"
BAND = "rgba(146,151,148,0.50)"
FONT = "Inter"
W, H = 1206, 918
L, R, T, B = 79, 1, 82, 137
pw, ph = W - L - R, H - T - B
def px(v): return (v - L) / pw
def py(v): return (H - B - v) / ph

neb = neb_left + neb_5 + neb_6 + neb_7 + neb_8 + neb_8_dense + neb_9 + neb_10
spa = spa_left + spa_5 + spa_6 + spa_7 + spa_8 + spa_8_dense + spa_9 + spa_10

fig = go.Figure()
fig.add_trace(go.Scatter(x=[p[0] for p in neb], y=[p[1] for p in neb], mode="markers", showlegend=False,
                         marker=dict(size=11, color=RED_DOT, line=dict(width=0))))
fig.add_trace(go.Scatter(x=[p[0] for p in spa], y=[p[1] for p in spa], mode="markers", showlegend=False,
                         marker=dict(size=11, color=BLUE_DOT, line=dict(width=0))))
for hi, lo in ((neb_hi, neb_lo), (spa_hi, spa_lo)):
    fig.add_trace(go.Scatter(x=fit_x, y=lo, mode="lines", line=dict(width=0, shape="spline"), showlegend=False, hoverinfo="skip"))
    fig.add_trace(go.Scatter(x=fit_x, y=hi, mode="lines", fill="tonexty", fillcolor=BAND,
                             line=dict(width=0, shape="spline"), showlegend=False, hoverinfo="skip"))
fig.add_trace(go.Scatter(x=fit_x, y=neb_fit, mode="lines", showlegend=False, line=dict(color=RED, width=4.5, shape="spline")))
fig.add_trace(go.Scatter(x=fit_x, y=spa_fit, mode="lines", showlegend=False, line=dict(color=BLUE, width=4.5, shape="spline")))
# Legend keys use a thinner stroke than the fitted lines
fig.add_trace(go.Scatter(x=[None], y=[None], mode="lines", name="Nebuliser", line=dict(color=RED, width=2)))
fig.add_trace(go.Scatter(x=[None], y=[None], mode="lines", name="Spacer", line=dict(color=BLUE, width=2)))

shapes = [
    dict(type="line", xref="paper", yref="paper", x0=px(7), x1=px(7), y0=py(0), y1=py(918), line=dict(color="#b9b9b9", width=2)),
    dict(type="line", xref="paper", yref="paper", x0=px(8), x1=px(1206), y0=py(8), y1=py(8), line=dict(color="#eeeeee", width=2)),
    dict(type="line", xref="paper", yref="paper", x0=px(8), x1=px(1206), y0=py(895), y1=py(895), line=dict(color="#eeeeee", width=2)),
    dict(type="rect", xref="paper", yref="paper", x0=px(77), x1=px(110), y0=py(862), y1=py(885), fillcolor="#c9ccca", line=dict(width=0)),
    dict(type="rect", xref="paper", yref="paper", x0=px(247), x1=px(280), y0=py(862), y1=py(885), fillcolor="#c9ccca", line=dict(width=0)),
]
annotations = [
    dict(text="Last dyspnoea score", xref="paper", yref="paper", x=px(34), y=py(52), xanchor="left", yanchor="middle",
         showarrow=False, font=dict(family=FONT, size=23.4, color="#2b2b2b")),
    dict(text="First dyspnoea score", xref="paper", yref="paper", x=px(1148), y=py(848), xanchor="right", yanchor="middle",
         showarrow=False, font=dict(family=FONT, size=23.4, color="#2b2b2b")),
]
axis = dict(showgrid=True, gridcolor="#ececec", gridwidth=2, zeroline=False, showline=False, ticks="",
            tickfont=dict(family=FONT, size=24, color="#333333"), tickmode="array")
fig.update_layout(
    width=W, height=H, margin=dict(l=L, r=R, t=T, b=B), plot_bgcolor="white", paper_bgcolor="white",
    xaxis=dict(axis, range=[(L - 161) / 98, (W - R - 161) / 98], tickvals=x_ticks, ticktext=[str(v) for v in x_ticks], ticklabelstandoff=8),
    yaxis=dict(axis, range=[(727.5 - (H - B)) / 59.05, (727.5 - T) / 59.05], tickvals=y_ticks, ticktext=[str(v) for v in y_ticks], ticklabelstandoff=14),
    shapes=shapes, annotations=annotations,
    legend=dict(orientation="h", x=px(72), y=py(875), xanchor="left", yanchor="middle", bgcolor="rgba(0,0,0,0)",
                itemwidth=34, entrywidth=119, entrywidthmode="pixels", traceorder="normal",
                font=dict(family=FONT, size=23.4, color="#2b2b2b")),
    showlegend=True,
)
fig.write_html("out.html", config=dict(displayModeBar=False), post_script="document.body.style.margin='0';")
